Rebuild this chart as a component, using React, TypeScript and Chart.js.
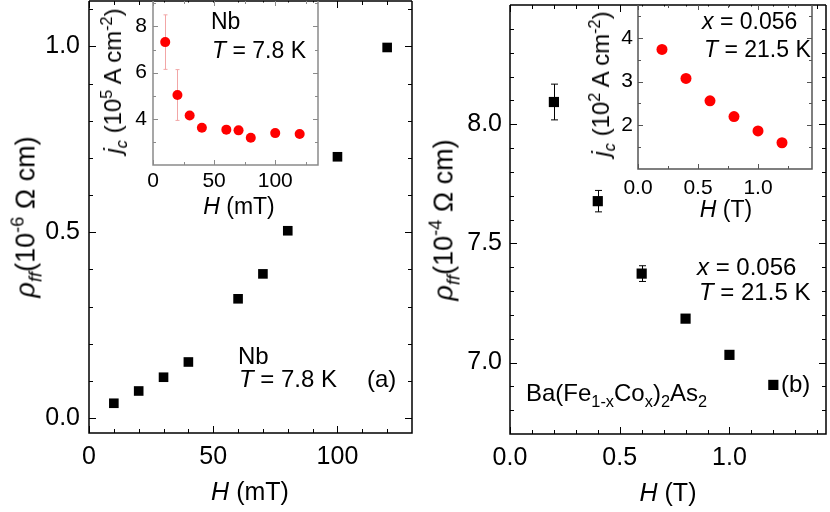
import React, { useEffect, useRef } from "react";
import { Chart, registerables } from "chart.js";

Chart.register(...registerables);

const FONT = '"Liberation Sans", Arial, Helvetica, sans-serif';
const W = 830;
const H = 512;
const Y_AXIS_W = 70;
const X_AXIS_H = 50;

// ---- Panel (a): Nb, flux-flow resistivity ----
const nbField = [10, 20, 30, 40, 60, 70, 80, 100, 120];
const nbRhoFF = [0.04, 0.073, 0.11, 0.151, 0.321, 0.388, 0.504, 0.703, 0.997];
// inset (a): critical current density
const nbInsetField = [10, 20, 30, 40, 60, 70, 80, 100, 120];
const nbJc = [7.32, 5.03, 4.14, 3.61, 3.53, 3.5, 3.18, 3.38, 3.34];
const nbJcErr = [1.18, 1.1, 0, 0, 0, 0, 0, 0, 0];

// ---- Panel (b): Ba(Fe1-xCox)2As2 ----
const bfcaField = [0.2, 0.4, 0.6, 0.8, 1.0, 1.2];
const bfcaRhoFF = [8.093, 7.677, 7.373, 7.184, 7.032, 6.906];
const bfcaRhoErr = [0.075, 0.045, 0.033, 0, 0, 0];
const bfcaInsetField = [0.2, 0.4, 0.6, 0.8, 1.0, 1.2];
const bfcaJc = [3.735, 3.07, 2.56, 2.2, 1.87, 1.6];

// ---- Tick values / labels ----
const aMainXMajor = [0, 50, 100];
const aMainXLabels = ["0", "50", "100"];
const aMainXMinor = [10, 20, 30, 40, 60, 70, 80, 90, 110, 120];
const aMainYMajor = [0, 0.5, 1.0];
const aMainYLabels = ["0.0", "0.5", "1.0"];
const aMainYMinor = [0.1, 0.2, 0.3, 0.4, 0.6, 0.7, 0.8, 0.9, 1.1];

const aInsetXMajor = [0, 50, 100];
const aInsetXLabels = ["0", "50", "100"];
const aInsetXMinor = [25, 75, 125];
const aInsetYMajor = [4, 6, 8];
const aInsetYLabels = ["4", "6", "8"];
const aInsetYMinor = [3, 5, 7, 9];

const bMainXMajor = [0, 0.5, 1.0];
const bMainXLabels = ["0.0", "0.5", "1.0"];
const bMainXMinor = [0.1, 0.2, 0.3, 0.4, 0.6, 0.7, 0.8, 0.9, 1.1, 1.2, 1.3, 1.4];
const bMainYMajor = [7.0, 7.5, 8.0];
const bMainYLabels = ["7.0", "7.5", "8.0"];
const bMainYMinor = [6.8, 6.9, 7.1, 7.2, 7.3, 7.4, 7.6, 7.7, 7.8, 7.9, 8.1, 8.2, 8.3, 8.4];

const bInsetXMajor = [0, 0.5, 1.0];
const bInsetXLabels = ["0.0", "0.5", "1.0"];
const bInsetXMinor = [0.25, 0.75, 1.25];
const bInsetYMajor = [2, 3, 4];
const bInsetYLabels = ["2", "3", "4"];
const bInsetYMinor = [1.5, 2.5, 3.5, 4.5];

const panelPlugin = {
  id: "panelFrame",
  beforeDatasetsDraw(chart: any, _a: any, o: any) {
    const { ctx, chartArea: a, scales } = chart;
    ctx.save();
    if (o.fill) {
      ctx.fillStyle = o.fill;
      ctx.fillRect(a.left, a.top + 1.5, a.right - a.left, a.bottom - a.top - 1.5);
    }
    chart.data.datasets.forEach((ds: any) => {
      if (!ds.errorBars) return;
      ctx.strokeStyle = ds.errorColor;
      ctx.lineWidth = ds.errorWidth;
      ds.data.forEach((p: any, i: number) => {
        const e = ds.errorBars[i];
        if (!e) return;
        const x = Math.round(scales.x.getPixelForValue(p.x)) + 0.5;
        const y1 = scales.y.getPixelForValue(p.y + e);
        const y2 = scales.y.getPixelForValue(p.y - e);
        const c = ds.errorCap;
        ctx.beginPath();
        ctx.moveTo(x, y1);
        ctx.lineTo(x, y2);
        ctx.moveTo(x - c, y1);
        ctx.lineTo(x + c, y1);
        ctx.moveTo(x - c, y2);
        ctx.lineTo(x + c, y2);
        ctx.stroke();
      });
    });
    ctx.restore();
  },
  afterDatasetsDraw(chart: any, _a: any, o: any) {
    const { ctx, chartArea: a, scales } = chart;
    ctx.save();
    ctx.lineWidth = o.tickWidth;
    ctx.strokeStyle = o.tickColor;
    const seg = (x1: number, y1: number, x2: number, y2: number) => {
      ctx.beginPath();
      ctx.moveTo(x1, y1);
      ctx.lineTo(x2, y2);
      ctx.stroke();
    };
    const xt = (vals: number[], len: number) =>
      vals.forEach((v) => {
        const px = Math.round(scales.x.getPixelForValue(v)) + 0.5;
        seg(px, a.bottom, px, a.bottom - len);
        seg(px, a.top, px, a.top + len);
      });
    const yt = (vals: number[], len: number) =>
      vals.forEach((v) => {
        const py = Math.round(scales.y.getPixelForValue(v)) + 0.5;
        seg(a.left, py, a.left + len, py);
        seg(a.right, py, a.right - len, py);
      });
    xt(o.xMajor, o.majorLen);
    xt(o.xMinor, o.minorLen);
    yt(o.yMajor, o.majorLen);
    yt(o.yMinor, o.minorLen);
    ctx.strokeStyle = o.frameColor;
    ctx.lineWidth = o.frameWidth;
    ctx.beginPath();
    if (o.frameTop) {
      ctx.moveTo(a.left, a.top);
      ctx.lineTo(a.right, a.top);
    }
    ctx.moveTo(a.right, a.top);
    ctx.lineTo(a.right, a.bottom);
    ctx.lineTo(a.left, a.bottom);
    ctx.lineTo(a.left, a.top);
    ctx.stroke();
    ctx.restore();
  },
};

type Spec = {
  xs: number[];
  ys: number[];
  err?: number[];
  errColor?: string;
  errWidth?: number;
  errCap?: number;
  pointStyle: string;
  radius: number;
  color: string;
  area: { left: number; right: number; top: number; bottom: number };
  xMin: number;
  xMax: number;
  yMin: number;
  yMax: number;
  xMajor: number[];
  xLabels: string[];
  xMinor: number[];
  yMajor: number[];
  yLabels: string[];
  yMinor: number[];
  tickSize: number;
  xPad: number;
  yPad: number;
  fill?: string;
  frameColor: string;
  frameTop: boolean;
  majorLen: number;
  minorLen: number;
};

function buildConfig(p: Spec): any {
  return {
    type: "scatter",
    data: {
      datasets: [
        {
          data: p.xs.map((x, i) => ({ x, y: p.ys[i] })),
          pointStyle: p.pointStyle,
          pointRadius: p.radius,
          pointHoverRadius: p.radius,
          backgroundColor: p.color,
          borderColor: p.color,
          borderWidth: 0,
          errorBars: p.err,
          errorColor: p.errColor,
          errorWidth: p.errWidth,
          errorCap: p.errCap,
        },
      ],
    },
    options: {
      responsive: false,
      animation: false,
      events: [],
      layout: {
        autoPadding: false,
        padding: {
          left: p.area.left - Y_AXIS_W,
          right: W - p.area.right,
          top: p.area.top,
          bottom: H - p.area.bottom - X_AXIS_H,
        },
      },
      plugins: {
        legend: { display: false },
        tooltip: { enabled: false },
        panelFrame: {
          fill: p.fill,
          frameColor: p.frameColor,
          frameWidth: 1.5,
          frameTop: p.frameTop,
          tickColor: p.frameColor,
          tickWidth: 1,
          majorLen: p.majorLen,
          minorLen: p.minorLen,
          xMajor: p.xMajor,
          xMinor: p.xMinor,
          yMajor: p.yMajor,
          yMinor: p.yMinor,
        },
      },
      scales: {
        x: {
          type: "linear",
          min: p.xMin,
          max: p.xMax,
          grid: { display: false, drawTicks: false },
          border: { display: false },
          afterBuildTicks: (s: any) => {
            s.ticks = p.xMajor.map((v) => ({ value: v }));
          },
          afterFit: (s: any) => {
            s.height = X_AXIS_H;
            s.paddingLeft = 0;
            s.paddingRight = 0;
          },
          ticks: {
            autoSkip: false,
            maxRotation: 0,
            padding: p.xPad,
            color: "#000",
            font: { family: FONT, size: p.tickSize },
            callback: (v: number) => {
              const i = p.xMajor.findIndex((m) => Math.abs(m - v) < 1e-9);
              return i >= 0 ? p.xLabels[i] : "";
            },
          },
        },
        y: {
          type: "linear",
          min: p.yMin,
          max: p.yMax,
          grid: { display: false, drawTicks: false },
          border: { display: false },
          afterBuildTicks: (s: any) => {
            s.ticks = p.yMajor.map((v) => ({ value: v }));
          },
          afterFit: (s: any) => {
            s.width = Y_AXIS_W;
            s.paddingTop = 0;
            s.paddingBottom = 0;
          },
          ticks: {
            autoSkip: false,
            padding: p.yPad,
            color: "#000",
            font: { family: FONT, size: p.tickSize },
            callback: (v: number) => {
              const i = p.yMajor.findIndex((m) => Math.abs(m - v) < 1e-9);
              return i >= 0 ? p.yLabels[i] : "";
            },
          },
        },
      },
    },
    plugins: [panelPlugin],
  };
}

const specs: Spec[] = [
  {
    xs: nbField, ys: nbRhoFF, pointStyle: "rect", radius: 6.8, color: "#000",
    area: { left: 89, right: 412, top: 1, bottom: 433 },
    xMin: 0, xMax: 130, yMin: -0.04, yMax: 1.122,
    xMajor: aMainXMajor, xLabels: aMainXLabels, xMinor: aMainXMinor,
    yMajor: aMainYMajor, yLabels: aMainYLabels, yMinor: aMainYMinor,
    tickSize: 25, xPad: 9, yPad: 9, frameColor: "#000", frameTop: true, majorLen: 7, minorLen: 4,
  },
  {
    xs: bfcaField, ys: bfcaRhoFF, err: bfcaRhoErr, errColor: "#000", errWidth: 1, errCap: 3.5,
    pointStyle: "rect", radius: 7.2, color: "#000",
    area: { left: 510, right: 826, top: 5, bottom: 434 },
    xMin: 0, xMax: 1.44, yMin: 6.7, yMax: 8.5,
    xMajor: bMainXMajor, xLabels: bMainXLabels, xMinor: bMainXMinor,
    yMajor: bMainYMajor, yLabels: bMainYLabels, yMinor: bMainYMinor,
    tickSize: 25, xPad: 9, yPad: 8, frameColor: "#000", frameTop: true, majorLen: 7, minorLen: 4,
  },
  {
    xs: nbInsetField, ys: nbJc, err: nbJcErr, errColor: "#f2a6a6", errWidth: 1, errCap: 2,
    pointStyle: "circle", radius: 5, color: "#ff0000",
    area: { left: 153, right: 318, top: 1, bottom: 165 },
    xMin: 0, xMax: 135, yMin: 2, yMax: 9.1,
    xMajor: aInsetXMajor, xLabels: aInsetXLabels, xMinor: aInsetXMinor,
    yMajor: aInsetYMajor, yLabels: aInsetYLabels, yMinor: aInsetYMinor,
    tickSize: 21, xPad: 4, yPad: 6, fill: "#fff", frameColor: "#8a8a8a", frameTop: false, majorLen: 5, minorLen: 3,
  },
  {
    xs: bfcaInsetField, ys: bfcaJc, pointStyle: "circle", radius: 5.5, color: "#ff0000",
    area: { left: 638, right: 812, top: 5, bottom: 169 },
    xMin: 0, xMax: 1.45, yMin: 1, yMax: 4.75,
    xMajor: bInsetXMajor, xLabels: bInsetXLabels, xMinor: bInsetXMinor,
    yMajor: bInsetYMajor, yLabels: bInsetYLabels, yMinor: bInsetYMinor,
    tickSize: 21, xPad: 7, yPad: 5, fill: "#fff", frameColor: "#555", frameTop: false, majorLen: 5, minorLen: 3,
  },
];

const base: React.CSSProperties = {
  position: "absolute",
  fontFamily: FONT,
  lineHeight: 1,
  whiteSpace: "nowrap",
  color: "#000",
};

const I = ({ children }: { children: React.ReactNode }) => (
  <span style={{ fontStyle: "italic" }}>{children}</span>
);
const Sub = ({ children, it }: { children: React.ReactNode; it?: boolean }) => (
  <span
    style={{
      fontSize: "0.68em",
      position: "relative",
      top: "0.36em",
      fontStyle: it ? "italic" : "normal",
    }}
  >
    {children}
  </span>
);
const Sup = ({ children }: { children: React.ReactNode }) => (
  <span style={{ fontSize: "0.68em", position: "relative", top: "-0.58em" }}>{children}</span>
);

const Txt = ({ x, y, f, children }: { x: number; y: number; f: number; children: React.ReactNode }) => (
  <div style={{ ...base, left: x, top: y, fontSize: f }}>{children}</div>
);
const CTxt = ({ cx, y, f, children }: { cx: number; y: number; f: number; children: React.ReactNode }) => (
  <div style={{ ...base, left: cx, top: y, fontSize: f, transform: "translateX(-50%)" }}>{children}</div>
);
const VTxt = ({ cx, cy, f, children }: { cx: number; cy: number; f: number; children: React.ReactNode }) => (
  <div
    style={{
      ...base,
      left: cx,
      top: cy,
      fontSize: f,
      transform: "translate(-50%, -50%) rotate(-90deg)",
    }}
  >
    {children}
  </div>
);

function ChartCanvas({ spec }: { spec: Spec }) {
  const ref = useRef<HTMLCanvasElement | null>(null);
  useEffect(() => {
    if (!ref.current) return;
    const chart = new Chart(ref.current, buildConfig(spec));
    return () => chart.destroy();
  }, [spec]);
  return (
    <canvas
      ref={ref}
      width={W}
      height={H}
      style={{ position: "absolute", left: 0, top: 0, width: W, height: H }}
    />
  );
}

export default function App() {
  return (
    <div
      style={{
        position: "absolute",
        left: 0,
        top: 0,
        width: W,
        height: H,
        background: "#fff",
        overflow: "hidden",
      }}
    >
      {specs.map((s, i) => (
        <ChartCanvas key={i} spec={s} />
      ))}

      {/* Panel (a) main */}
      <VTxt cx={26} cy={217} f={27}>
        <I>ρ</I>
        <Sub it>ff</Sub>(10<Sup>-6</Sup> Ω cm)
      </VTxt>
      <CTxt cx={250} y={479} f={25}>
        <I>H</I> (mT)
      </CTxt>
      <Txt x={238} y={344} f={24}>
        Nb
      </Txt>
      <Txt x={239} y={367} f={24}>
        <I>T</I> = 7.8 K
      </Txt>
      <Txt x={367} y={367} f={24}>
        (a)
      </Txt>

      {/* Panel (a) inset */}
      <VTxt cx={113} cy={81} f={24}>
        <I>j</I>
        <Sub it>c</Sub> (10<Sup>5</Sup> A cm<Sup>-2</Sup>)
      </VTxt>
      <CTxt cx={239} y={195} f={23}>
        <I>H</I> (mT)
      </CTxt>
      <Txt x={211} y={10} f={23}>
        Nb
      </Txt>
      <Txt x={212} y={39} f={23}>
        <I>T</I> = 7.8 K
      </Txt>

      {/* Panel (b) main */}
      <VTxt cx={444} cy={220} f={27}>
        <I>ρ</I>
        <Sub it>ff</Sub>(10<Sup>-4</Sup> Ω cm)
      </VTxt>
      <CTxt cx={668} y={480} f={25}>
        <I>H</I> (T)
      </CTxt>
      <Txt x={697} y={255} f={24}>
        <I>x</I> = 0.056
      </Txt>
      <Txt x={699} y={280} f={24}>
        <I>T</I> = 21.5 K
      </Txt>
      <Txt x={526} y={381} f={24}>
        Ba(Fe<Sub>1-x</Sub>Co<Sub>x</Sub>)<Sub>2</Sub>As<Sub>2</Sub>
      </Txt>
      <Txt x={781} y={372} f={24}>
        (b)
      </Txt>

      {/* Panel (b) inset */}
      <VTxt cx={601} cy={84} f={24}>
        <I>j</I>
        <Sub it>c</Sub> (10<Sup>2</Sup> A cm<Sup>-2</Sup>)
      </VTxt>
      <CTxt cx={726} y={198} f={23}>
        <I>H</I> (T)
      </CTxt>
      <Txt x={702} y={10} f={23}>
        <I>x</I> = 0.056
      </Txt>
      <Txt x={704} y={38} f={23}>
        <I>T</I> = 21.5 K
      </Txt>
    </div>
  );
}
